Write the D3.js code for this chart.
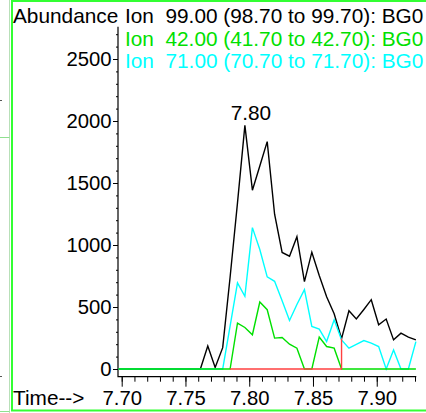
<!DOCTYPE html>
<html>
<head>
<meta charset="utf-8">
<script src="https://cdnjs.cloudflare.com/ajax/libs/d3/7.8.5/d3.min.js"></script>
<style>
    body {margin: 0; background: #fff;}
    svg {display: block; font-family: "Liberation Sans", Arial, sans-serif;}
    .legend_text {white-space: pre;}
</style>
</head>
<body>
<svg id="chart" width="426" height="413"></svg>
<script>

//scan times (min) - one scan every ~0.0058 min
var scan_times = [7.6976, 7.7034, 7.7092, 7.7151, 7.7209, 7.7267, 7.7326, 7.7384, 7.7442, 7.7500,
                  7.7559, 7.7617, 7.7675, 7.7733, 7.7792, 7.7850, 7.7908, 7.7966, 7.8025, 7.8083,
                  7.8141, 7.8199, 7.8258, 7.8316, 7.8374, 7.8433, 7.8491, 7.8549, 7.8607, 7.8666,
                  7.8724, 7.8782, 7.8840, 7.8899, 7.8957, 7.9015, 7.9074, 7.9132, 7.9190, 7.9248,
                  7.9307];

//abundance for each extracted ion
var ion_99 = [0, 0, 0, 0, 0, 0, 0, 0, 0, 0,
              0, 0, 186, 12, 172, 740, 1340, 1965, 1442, 1637,
              1834, 1248, 940, 910, 1067, 705, 942, 754, 583, 446,
              245, 470, 403, 480, 559, 357, 403, 235, 289, 257,
              235];
var ion_42 = [0, 0, 0, 0, 0, 0, 0, 0, 0, 0,
              0, 0, 0, 0, 0, 0, 370, 335, 276, 540,
              478, 249, 254, 200, 168, 0, 0, 257, 181, 168,
              0, 0, 0, 0, 0, 0, 0, 0, 0, 0,
              0];
var ion_71 = [0, 0, 0, 0, 0, 0, 0, 0, 0, 0,
              0, 0, 0, 0, 0, 345, 695, 586, 1140, 964,
              743, 707, 550, 391, 520, 640, 343, 322, 221, 397,
              235, 168, 198, 229, 208, 181, 0, 154, 0, 0,
              221];

var legend_labels = ["Ion  99.00 (98.70 to 99.70): BG0", "Ion  42.00 (41.70 to 42.70): BG0", "Ion  71.00 (70.70 to 71.70): BG0"];
var legend_colours = ["#000000", "#00e000", "#00ffff"];

//integration of the peak (red baseline + drop line)
var integ_start = 7.7850,
    integ_end = 7.8724,
    integ_drop = 245;

//peak label
var peak_time = 7.7966,
    peak_label = "7.80";

//axis ticks
var y_ticks = [0, 500, 1000, 1500, 2000, 2500];
var x_ticks = [7.70, 7.75, 7.80, 7.85, 7.90];

var svg = d3.select("#chart");
var font_size = 20.8,
    tick_font_size = 20.3;

//scales - fitted to the original screen layout
var x_scale = d3.scaleLinear().domain([7.70, 7.93]).range([121.7, 415]);
var y_scale = d3.scaleLinear().domain([0, 2500]).range([369, 59]);

var axis_left = 118,
    axis_top_value = 2760,
    axis_bottom_value = -62;

//window frame bits
svg.append("rect").attr("x", 0).attr("y", 0).attr("width", 426).attr("height", 413).attr("fill", "#fff");
svg.append("line").attr("x1", 9.5).attr("x2", 9.5).attr("y1", 0).attr("y2", 413)
    .attr("stroke", "#b8e0b8").attr("stroke-width", 1);
svg.append("line").attr("x1", 0).attr("x2", 9.5).attr("y1", 137.5).attr("y2", 137.5)
    .attr("stroke", "#8fe08f").attr("stroke-width", 1);
svg.append("line").attr("x1", 0).attr("x2", 9.5).attr("y1", 411.5).attr("y2", 411.5)
    .attr("stroke", "#8fe08f").attr("stroke-width", 1);
[100.5, 376.5].forEach(function(yy){
    svg.append("line").attr("x1", 0).attr("x2", 2).attr("y1", yy).attr("y2", yy)
        .attr("stroke", "#555").attr("stroke-width", 1);
});
svg.append("path")
    .attr("d", "M440,1H12V410.5H440")
    .attr("fill", "none")
    .attr("stroke", "#33ff33")
    .attr("stroke-width", 2);

//y axis
var y_axis = d3.axisLeft(y_scale).tickValues(y_ticks).tickSize(5).tickPadding(1.5).tickFormat(d3.format("d"));
var y_minor = d3.axisLeft(y_scale).tickValues(d3.range(0, 2701, 100)).tickSize(2).tickFormat("");

var y_g = svg.append("g").attr("transform", "translate(" + axis_left + ",0)");
y_g.call(y_minor);
y_g.append("g").call(y_axis);
y_g.selectAll(".domain").remove();
y_g.selectAll("text").attr("font-size", tick_font_size).attr("font-family", null).attr("fill", "#000");
y_g.selectAll("line").attr("stroke", "#000");

//x axis
var x_axis_y = y_scale(axis_bottom_value);
var x_axis = d3.axisBottom(x_scale).tickValues(x_ticks).tickSize(10).tickPadding(4).tickFormat(d3.format(".2f"));
var x_minor = d3.axisBottom(x_scale).tickValues(d3.range(770, 794, 1).map(function(d){ return d / 100; })).tickSize(5).tickFormat("");

var x_g = svg.append("g").attr("transform", "translate(0," + x_axis_y + ")");
x_g.call(x_minor);
x_g.append("g").call(x_axis);
x_g.selectAll(".domain").remove();
x_g.selectAll("text").attr("font-size", tick_font_size).attr("font-family", null).attr("fill", "#000");
x_g.selectAll("line").attr("stroke", "#000");

//axis lines
svg.append("path")
    .attr("d", "M" + axis_left + "," + y_scale(axis_top_value) + "V" + x_axis_y + "H" + x_scale(7.931))
    .attr("fill", "none")
    .attr("stroke", "#000")
    .attr("stroke-width", 1.2);

//titles
svg.append("text").attr("x", 13).attr("y", 23).attr("font-size", font_size).text("Abundance");
svg.append("text").attr("x", 13).attr("y", x_axis_y + 28.5).attr("font-size", font_size).text("Time-->");

//legend
svg.selectAll(".legend_text")
    .data(legend_labels)
    .enter().append("text")
    .attr("class", "legend_text")
    .attr("x", 125)
    .attr("y", function(d, i){ return 23 + i * 22.5; })
    .attr("font-size", font_size)
    .attr("fill", function(d, i){ return legend_colours[i]; })
    .text(function(d){ return d; });

//ion traces
var series = [ion_99, ion_71, ion_42];
var series_colours = ["#000000", "#00ffff", "#00e000"];

var line = d3.line()
    .x(function(d){ return x_scale(d[0]); })
    .y(function(d){ return y_scale(d[1]); });

series.forEach(function(values, i){
    svg.append("path")
        .datum(d3.zip(scan_times, values))
        .attr("fill", "none")
        .attr("stroke", series_colours[i])
        .attr("stroke-width", 1.4)
        .attr("stroke-linejoin", "miter")
        .attr("d", line);
});

//integration baseline + drop line
svg.append("path")
    .datum([[integ_start, 0], [integ_end, 0], [integ_end, integ_drop]])
    .attr("fill", "none")
    .attr("stroke", "#ff4040")
    .attr("stroke-width", 1.4)
    .attr("d", line);

//peak retention time label
var peak_value = ion_99[scan_times.indexOf(peak_time)];
svg.append("text")
    .attr("x", x_scale(peak_time) + 6)
    .attr("y", y_scale(peak_value) - 5)
    .attr("text-anchor", "middle")
    .attr("font-size", font_size)
    .text(peak_label);

</script>
</body>
</html>
